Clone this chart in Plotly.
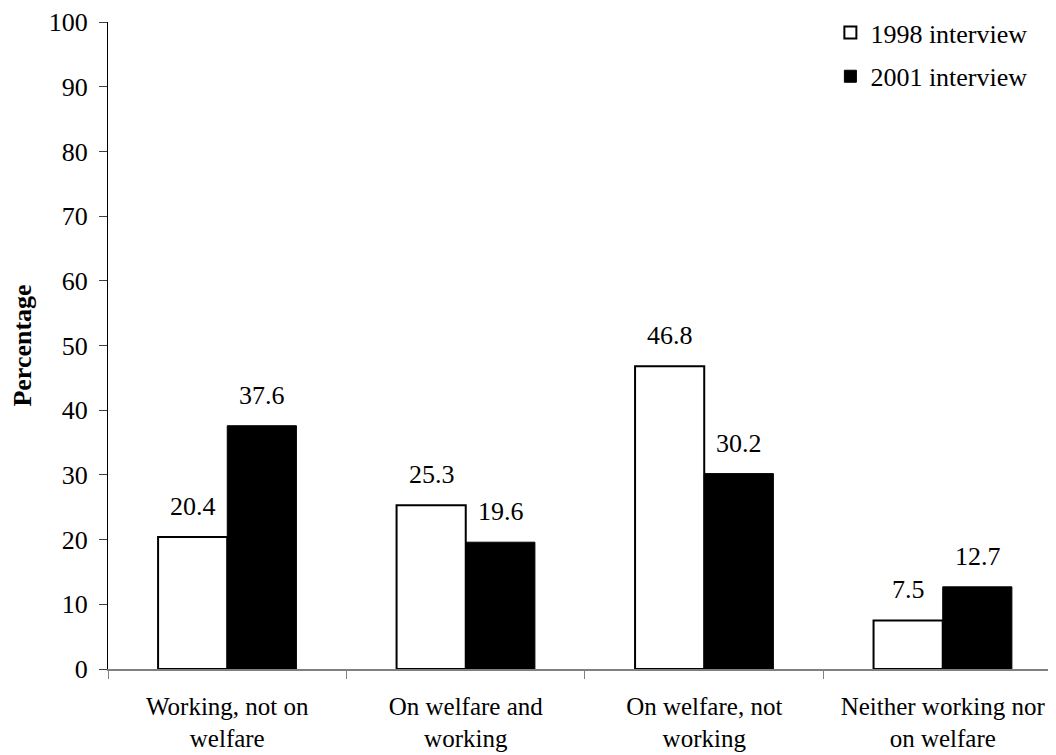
import plotly.graph_objects as go

# data
categories = ["Working, not on<br>welfare", "On welfare and<br>working",
              "On welfare, not<br>working", "Neither working nor<br>on welfare"]
vals_1998 = [20.4, 25.3, 46.8, 7.5]
vals_2001 = [37.6, 19.6, 30.2, 12.7]
y_ticks = [0, 10, 20, 30, 40, 50, 60, 70, 80, 90, 100]

FONT = "Liberation Serif"
f26 = dict(family=FONT, size=26, color="black")
f25 = dict(family=FONT, size=25, color="black")

fig = go.Figure()
fig.add_trace(go.Bar(x=categories, y=vals_1998, name="1998 interview",
                     marker=dict(color="white", line=dict(color="black", width=2)),
                     legendgroup="a"))
fig.add_trace(go.Bar(x=categories, y=vals_2001, name="2001 interview",
                     marker=dict(color="black", line=dict(color="black", width=1)),
                     legendgroup="b"))

# value labels above bars
for i, c in enumerate(categories):
    for v, shift in ((vals_1998[i], -34), (vals_2001[i], 35)):
        fig.add_annotation(x=c, y=v, text=f"{v:.1f}", showarrow=False,
                           xshift=shift, yshift=14, yanchor="bottom", font=f26)

fig.update_layout(
    width=1048, height=747,
    margin=dict(l=100, r=0, t=14, b=86, autoexpand=False),
    plot_bgcolor="white", paper_bgcolor="white",
    font=f26,
    barmode="group", bargap=0.42, bargroupgap=0,
    legend=dict(x=0.762, y=1.02, xanchor="left", yanchor="top", tracegroupgap=7,
                traceorder="grouped", bgcolor="rgba(0,0,0,0)",
                font=f26, itemwidth=30),
    showlegend=True,
)
fig.update_xaxes(range=[-0.5, 3.475], showline=True, linecolor="#808080", linewidth=1.5,
                 ticks="outside", tickson="boundaries", ticklen=8, tickcolor="#808080",
                 showgrid=False, ticklabelstandoff=14, tickangle=0, automargin=False,
                 tickfont=f25, ticklabeloverflow="allow")
fig.update_yaxes(range=[0, 100], tickvals=y_ticks, showline=True, linecolor="black",
                 linewidth=1.2, ticks="outside", ticklen=8, tickcolor="#404040",
                 showgrid=False, zeroline=False, ticklabelstandoff=6, automargin=False,
                 tickfont=f26, ticklabeloverflow="allow",
                 title=dict(text="<b>Percentage</b>", standoff=23, font=f26))

fig.write_html("out.html")
